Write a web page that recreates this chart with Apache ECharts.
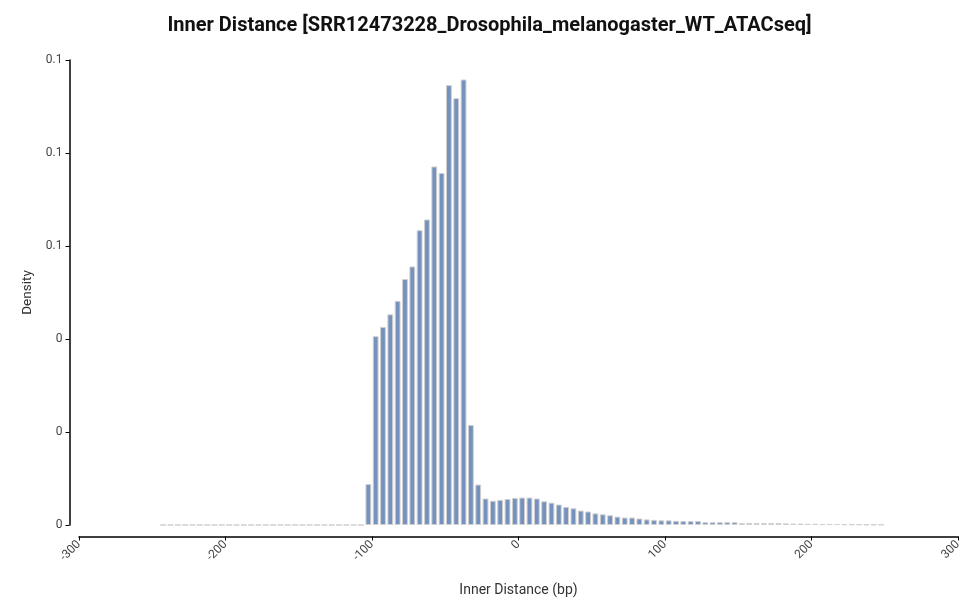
<!DOCTYPE html>
<html>
<head>
<meta charset="utf-8">
<script src="https://cdn.jsdelivr.net/npm/echarts@6/dist/echarts.min.js"></script>
<style>
html,body{margin:0;padding:0;background:#fff;}
#chart{width:979px;height:614px;}
</style>
</head>
<body>
<div id="chart"></div>
<script>
// Bin centers (bp), 5 bp wide bins
var binStart = -242.5;
var binStep = 5;
// Density per bin, from -242.5 up to 247.5
var leftZeros = [0,0,0,0,0,0,0,0,0,0,0,0,0,0,0,0,0,0,0,0,0,0,0,0,0,0,0,0];
var densityMain = [
  0.0088, 0.0406, 0.0426, 0.0453, 0.0482, 0.0529, 0.0556, 0.0634, 0.0657, 0.0771,
  0.0757, 0.0946, 0.0918, 0.0958, 0.0215, 0.0087, 0.0057, 0.0052, 0.0054, 0.0056,
  0.0058, 0.0059, 0.0059, 0.0057, 0.0051, 0.0048, 0.0044, 0.0039, 0.0036, 0.0031,
  0.0029, 0.0025, 0.0023, 0.0021, 0.0018, 0.0016, 0.0016, 0.0014, 0.0012, 0.0011,
  0.0010, 0.0010, 0.0009, 0.00085, 0.00085, 0.00085, 0.0006, 0.0006, 0.0006, 0.0006,
  0.0006, 0.0004, 0.00045, 0.0004, 0.0004, 0.0004, 0.0004, 0.00035, 0.0003, 0.0003,
  0.00025, 0.00025, 0.0002, 0.0002, 0.0002, 0.00015, 0.00015, 0.00015, 0.0001, 0.0001,
  0.0001
];
var xTickLabels = ['-300', '-200', '-100', '0', '100', '200', '300'];
var yTickLabels = ['0', '0', '0', '0.1', '0.1', '0.1'];
var titleText = 'Inner Distance [SRR12473228_Drosophila_melanogaster_WT_ATACseq]';

var densities = leftZeros.concat(densityMain);
var seriesData = densities.map(function (d, i) { return [binStart + i * binStep, d]; });

var chart = echarts.init(document.getElementById('chart'));
chart.setOption({
  animation: false,
  backgroundColor: '#ffffff',
  textStyle: { fontFamily: 'Roboto' },
  title: {
    text: titleText,
    left: 'center',
    top: 11,
    textStyle: { fontFamily: 'Roboto', fontWeight: 'bold', fontSize: 20, color: '#111' }
  },
  grid: { left: 79, right: 21, top: 60, bottom: 89, containLabel: false },
  xAxis: {
    type: 'value',
    min: -300, max: 300, interval: 100,
    offset: 11.5,
    name: 'Inner Distance (bp)',
    nameLocation: 'middle',
    nameGap: 47,
    nameTextStyle: { fontSize: 14, color: '#333', fontFamily: 'Roboto' },
    axisLine: { show: true, onZero: false, lineStyle: { color: '#000', width: 1.5 } },
    axisTick: { show: true, length: 4, lineStyle: { color: '#000' } },
    axisLabel: {
      rotate: 45, fontSize: 12, color: '#444', margin: 6,
      formatter: function (v) { return xTickLabels[Math.round((v + 300) / 100)]; }
    },
    splitLine: { show: false }
  },
  yAxis: {
    type: 'value',
    min: 0, max: 0.1, interval: 0.02,
    offset: 9.5,
    name: 'Density',
    nameLocation: 'middle',
    nameGap: 34,
    nameTextStyle: { fontSize: 13.5, color: '#333', fontFamily: 'Roboto' },
    axisLine: { show: true, onZero: false, lineStyle: { color: '#000', width: 1.5 } },
    axisTick: { show: true, length: 4, lineStyle: { color: '#000' } },
    axisLabel: {
      fontSize: 12, color: '#444', margin: 7,
      formatter: function (v) { return yTickLabels[Math.round(v / 0.02)]; }
    },
    splitLine: { show: false }
  },
  series: [{
    type: 'bar',
    data: seriesData,
    barWidth: 5.8,
    itemStyle: { color: '#7592bf', borderColor: '#cfcfcf', borderWidth: 1 }
  }]
});
</script>
</body>
</html>
